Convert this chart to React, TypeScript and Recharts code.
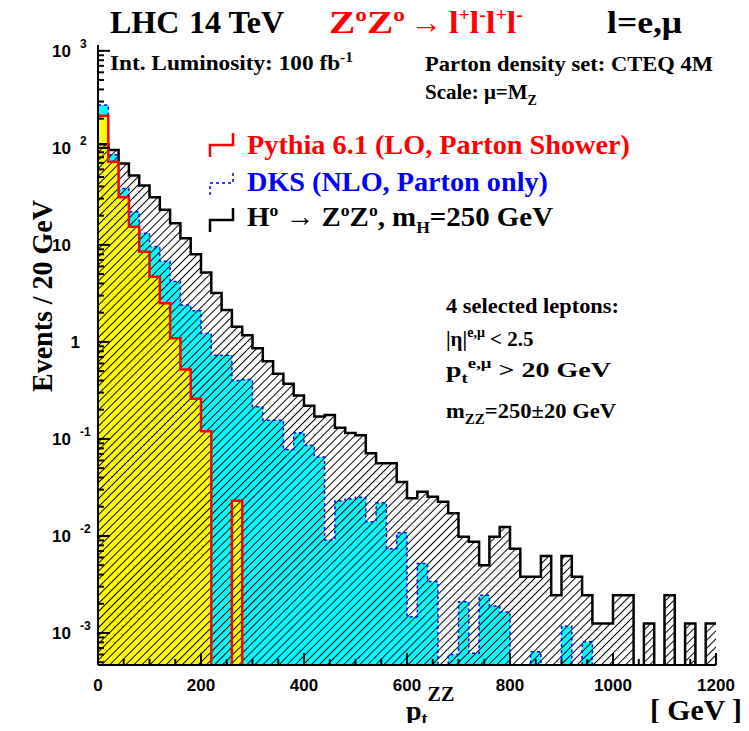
import { Area, ComposedChart, Line, XAxis, YAxis } from 'recharts'

// pt(ZZ) histograms, 20 GeV bins from 0 to 1200 GeV (events / bin)
const BIN_WIDTH = 20

const higgsSignal = [
  109, 95, 69, 52, 41, 31, 23, 16.7, 11.7, 8.0,
  5.2, 3.2, 2.13, 1.43, 1.17, 0.86, 0.63, 0.47, 0.37, 0.28,
  0.22, 0.17, 0.176, 0.13, 0.115, 0.109, 0.071, 0.056, 0.056, 0.036,
  0.0244, 0.0285, 0.0253, 0.0225, 0.0171, 0.0098, 0.0087, 0.005, 0.0098, 0.0124,
  0.0074, 0.0038, 0.0038, 0.0062, 0.00245, 0.0062, 0.0038, 0.00245, 0.00125, 0.00125,
  0.00245, 0.00245, 0, 0.00125, 0, 0.00245, 0, 0.00125, 0, 0.00125,
]

const dksNlo = [
  276, 85, 38, 21.9, 13.2, 9.6, 6.8, 4.2, 2.4, 2.1,
  1.22, 0.73, 0.73, 0.4, 0.41, 0.214, 0.156, 0.156, 0.078, 0.116,
  0.086, 0.065, 0.0091, 0.023, 0.024, 0.025, 0.014, 0.022, 0.0074, 0.0108,
  0.00147, 0.0052, 0.0034, 0, 0.0006, 0.0021, 0.00062, 0.00245, 0.0019, 0.00165,
  0, 0, 0.00064, 0, 0, 0.00117, 0, 0.00081, 0, 0,
  0, 0, 0, 0, 0, 0, 0, 0, 0, 0,
]

const pythiaLo = [
  214, 72, 31, 15.4, 8.5, 4.7, 2.5, 1.09, 0.52, 0.26,
  0.12, 0, 0, 0.023, 0, 0, 0, 0, 0, 0,
  0, 0, 0, 0, 0, 0, 0, 0, 0, 0,
  0, 0, 0, 0, 0, 0, 0, 0, 0, 0,
  0, 0, 0, 0, 0, 0, 0, 0, 0, 0,
  0, 0, 0, 0, 0, 0, 0, 0, 0, 0,
]

const xLabelTicks = [0, 200, 400, 600, 800, 1000, 1200]
const xMinorStep = 50
const yDecades = [-3, -2, -1, 0, 1, 2, 3]

const Y_MIN = Math.pow(10, -3.33)
const Y_MAX = Math.pow(10, 3.06)
const FLOOR = 1e-7

const rows = higgsSignal.map((h, i) => ({
  pt: i * BIN_WIDTH,
  higgs: h || FLOOR,
  dks: dksNlo[i] || FLOOR,
  pythia: pythiaLo[i] || FLOOR,
}))
rows.push({ ...rows[rows.length - 1], pt: rows.length * BIN_WIDTH })

const xTicks: number[] = []
for (let v = 0; v <= 1200; v += xMinorStep) xTicks.push(v)

const yTicks: number[] = []
for (let d = -4; d <= 3; d++) {
  for (let m = 1; m <= 9; m++) {
    const v = m * Math.pow(10, d)
    if (v >= Y_MIN && v <= Y_MAX) yTicks.push(v)
  }
}

const SANS = '"Liberation Sans", Arial, sans-serif'
const SERIF = '"Liberation Serif", "Times New Roman", serif'

function XTick(props: any) {
  const { x, y, payload } = props
  const v = payload.value
  const major = xLabelTicks.includes(v)
  return (
    <g>
      <line x1={x} x2={x} y1={y} y2={y - (major ? 12 : 6)} stroke="#000" strokeWidth={2} />
      {major && (
        <text x={x} y={y + 26} textAnchor="middle" fontFamily={SANS} fontWeight="bold" fontSize={17} fill="#000">
          {v}
        </text>
      )}
    </g>
  )
}

function YTick(props: any) {
  const { x, y, payload } = props
  const v = payload.value
  const e = Math.round(Math.log10(v))
  const decade = Math.abs(v - Math.pow(10, e)) < 1e-9 * Math.pow(10, e) && yDecades.includes(e)
  let label = null
  if (decade) {
    if (e === 0) {
      label = (
        <text x={x - 18} y={y + 6} textAnchor="end" fontFamily={SANS} fontWeight="bold" fontSize={17}>1</text>
      )
    } else if (e === 1) {
      label = (
        <text x={x - 27} y={y + 6} textAnchor="end" fontFamily={SANS} fontWeight="bold" fontSize={17}>10</text>
      )
    } else {
      label = (
        <g fontFamily={SANS} fontWeight="bold">
          <text x={x - 27} y={y + 6} textAnchor="end" fontSize={17}>10</text>
          <text x={x - 18} y={y - 3} textAnchor="start" fontSize={12}>{e}</text>
        </g>
      )
    }
  }
  return (
    <g>
      <line x1={x} x2={x + (decade ? 12 : 6)} y1={y} y2={y} stroke="#000" strokeWidth={2} />
      {label}
    </g>
  )
}

function Overlay() {
  return (
    <svg
      width={733}
      height={715}
      style={{ position: 'absolute', left: 0, top: 0, overflow: 'visible', pointerEvents: 'none' }}
    >
      <g fontFamily={SERIF} fontWeight="bold">
        {/* title */}
        <text x={102} y={25} fontSize={32} fill="#000">LHC</text>
        <text x={181} y={25} fontSize={32} fill="#000">14 TeV</text>
        <text x={321} y={25} fontSize={32} fill="#ff0000" textLength={76} lengthAdjust="spacingAndGlyphs">
          Z<tspan dy={-12} fontSize={19}>o</tspan>
          <tspan dy={12}>Z</tspan>
          <tspan dy={-12} fontSize={19}>o</tspan>
        </text>
        <text x={402} y={25} fontSize={32} fill="#ff0000">→</text>
        <text x={441} y={25} fontSize={32} fill="#ff0000" textLength={74} lengthAdjust="spacingAndGlyphs">
          l<tspan dy={-12} fontSize={19}>+</tspan>
          <tspan dy={12}>l</tspan>
          <tspan dy={-12} fontSize={19}>-</tspan>
          <tspan dy={12}>l</tspan>
          <tspan dy={-12} fontSize={19}>+</tspan>
          <tspan dy={12}>l</tspan>
          <tspan dy={-12} fontSize={19}>-</tspan>
        </text>
        <text x={599} y={25} fontSize={32} fill="#000" textLength={75} lengthAdjust="spacingAndGlyphs">l=e,μ</text>

        {/* info boxes */}
        <text x={102} y={62} fontSize={21} textLength={243} lengthAdjust="spacingAndGlyphs">
          Int. Luminosity: 100 fb<tspan dy={-8} fontSize={14}>-1</tspan>
        </text>
        <text x={417} y={63} fontSize={21} textLength={288} lengthAdjust="spacingAndGlyphs">
          Parton density set: CTEQ 4M
        </text>
        <text x={417} y={91} fontSize={21}>
          Scale: μ=M<tspan dy={6} fontSize={14}>Z</tspan>
        </text>

        {/* legend */}
        <polyline points="202,149 202,137 225,137 225,125" fill="none" stroke="#ff0000" strokeWidth={2.5} />
        <text x={239} y={146} fontSize={28} fill="#ff0000" textLength={383} lengthAdjust="spacingAndGlyphs">
          Pythia 6.1 (LO, Parton Shower)
        </text>
        <polyline points="202,187 202,175 225,175 225,163" fill="none" stroke="#0000ff" strokeWidth={1.5} strokeDasharray="3 3" />
        <text x={239} y={183} fontSize={28} fill="#0000ff" textLength={301} lengthAdjust="spacingAndGlyphs">
          DKS (NLO, Parton only)
        </text>
        <polyline points="202,224 202,212 225,212 225,200" fill="none" stroke="#000" strokeWidth={2.5} />
        <text x={239} y={218} fontSize={28} fill="#000" textLength={306} lengthAdjust="spacingAndGlyphs">
          H<tspan dy={-10} fontSize={17}>o</tspan>
          <tspan dy={10}> → Z</tspan>
          <tspan dy={-10} fontSize={17}>o</tspan>
          <tspan dy={10}>Z</tspan>
          <tspan dy={-10} fontSize={17}>o</tspan>
          <tspan dy={10}>, m</tspan>
          <tspan dy={7} fontSize={17}>H</tspan>
          <tspan dy={-7}>=250 GeV</tspan>
        </text>

        {/* selection cuts */}
        <text x={438} y={305} fontSize={21} textLength={173} lengthAdjust="spacingAndGlyphs">4 selected leptons:</text>
        <text x={438} y={338} fontSize={21}>
          |η|<tspan dy={-9} fontSize={14}>e,μ</tspan>
          <tspan dy={9}> &lt; 2.5</tspan>
        </text>
        <text x={438} y={369} fontSize={21} textLength={165} lengthAdjust="spacingAndGlyphs">
          p<tspan dy={6} fontSize={14}>t</tspan>
          <tspan dy={-15} fontSize={14}>e,μ</tspan>
          <tspan dy={9}> &gt; 20 GeV</tspan>
        </text>
        <text x={438} y={410} fontSize={21} textLength={170} lengthAdjust="spacingAndGlyphs">
          m<tspan dy={6} fontSize={14}>ZZ</tspan>
          <tspan dy={-6}>=250±20 GeV</tspan>
        </text>

        {/* axis titles */}
        <text
          x={44}
          y={288}
          fontSize={30}
          textAnchor="middle"
          textLength={192}
          lengthAdjust="spacingAndGlyphs"
          transform="rotate(-90 44 288)"
        >
          Events / 20 GeV
        </text>
        <text x={398} y={712} fontSize={28}>
          p<tspan dy={5} fontSize={18}>t</tspan>
          <tspan dy={-24} fontSize={20}>ZZ</tspan>
        </text>
        <text x={642} y={712} fontSize={29} textLength={92} lengthAdjust="spacingAndGlyphs">[ GeV ]</text>
      </g>
    </svg>
  )
}

export default function App() {
  return (
    <div style={{ position: 'relative', width: 733, height: 715, background: '#fff' }}>
      <svg width={0} height={0} style={{ position: 'absolute' }}>
        <defs>
          <pattern id="hatchH" patternUnits="userSpaceOnUse" width={5.7} height={5.7} patternTransform="rotate(45)">
            <line x1={0.5} y1={0} x2={0.5} y2={5.7} stroke="#000" strokeWidth={1} />
          </pattern>
        </defs>
      </svg>
      <ComposedChart width={733} height={715} data={rows} margin={{ top: 37, right: 25, bottom: 18, left: 30 }}>
        <XAxis
          dataKey="pt"
          type="number"
          domain={[0, 1200]}
          ticks={xTicks}
          interval={0}
          tickSize={0}
          tickMargin={0}
          tick={XTick}
          axisLine={{ stroke: '#000', strokeWidth: 2 }}
          height={40}
        />
        <XAxis
          xAxisId="top"
          orientation="top"
          dataKey="pt"
          type="number"
          domain={[0, 1200]}
          tick={false}
          tickLine={false}
          axisLine={{ stroke: '#000', strokeWidth: 2 }}
          height={0}
        />
        <YAxis
          type="number"
          scale="log"
          domain={[Y_MIN, Y_MAX]}
          allowDataOverflow
          ticks={yTicks}
          interval={0}
          tickSize={0}
          tickMargin={0}
          tick={YTick}
          axisLine={{ stroke: '#000', strokeWidth: 2 }}
          width={60}
        />
        <YAxis
          yAxisId="right"
          orientation="right"
          type="number"
          scale="log"
          domain={[Y_MIN, Y_MAX]}
          allowDataOverflow
          tick={false}
          tickLine={false}
          axisLine={{ stroke: '#000', strokeWidth: 2 }}
          width={0}
        />
        <Area
          type="stepAfter"
          dataKey="dks"
          fill="#00ffff"
          fillOpacity={1}
          stroke="none"
          baseValue={Y_MIN}
          isAnimationActive={false}
        />
        <Area
          type="stepAfter"
          dataKey="pythia"
          fill="#ffff00"
          fillOpacity={1}
          stroke="none"
          baseValue={Y_MIN}
          isAnimationActive={false}
        />
        <Area
          type="stepAfter"
          dataKey="higgs"
          fill="url(#hatchH)"
          fillOpacity={1}
          stroke="#000"
          strokeWidth={2.5}
          baseValue={Y_MIN}
          isAnimationActive={false}
        />
        <Line
          type="stepAfter"
          dataKey="dks"
          stroke="#0000ff"
          strokeWidth={1.5}
          strokeDasharray="3 3"
          dot={false}
          activeDot={false}
          isAnimationActive={false}
        />
        <Line
          type="stepAfter"
          dataKey="pythia"
          stroke="#ff0000"
          strokeWidth={2.5}
          dot={false}
          activeDot={false}
          isAnimationActive={false}
        />
      </ComposedChart>
      <Overlay />
    </div>
  )
}
